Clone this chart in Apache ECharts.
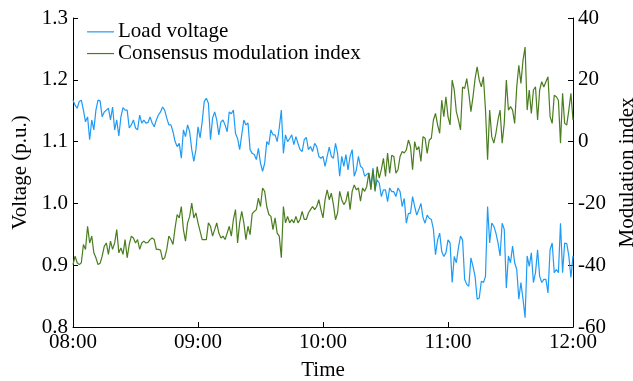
<!DOCTYPE html>
<html>
<head>
<meta charset="utf-8">
<script src="https://cdn.jsdelivr.net/npm/echarts@6/dist/echarts.min.js"></script>
<style>
  html, body { margin: 0; padding: 0; background: #fff; }
  #chart { width: 633px; height: 381px; }
</style>
</head>
<body>
<div id="chart"></div>
<script>
// Sampling: one reading per minute from 08:00 to 12:00
const STEP_MIN = 1;
const hourTicks = ['08:00', '09:00', '10:00', '11:00', '12:00'];

// Load voltage (p.u.)
const loadVoltage = [
  1.167,1.159,1.154,1.165,1.167,1.151,1.132,1.140,1.103,1.135,1.119,1.151,1.167,1.166,1.140,1.148,1.151,1.154,1.135,1.156,1.119,1.135,1.109,1.140,1.155,1.151,1.151,1.122,1.127,1.135,1.122,1.119,1.143,1.130,1.135,1.130,1.131,
  1.140,1.130,1.124,1.135,1.143,1.148,1.156,1.151,1.138,1.127,1.127,1.116,1.100,1.092,1.097,1.073,1.119,1.108,1.127,1.116,1.087,1.068,1.087,1.124,1.106,1.132,1.165,1.170,1.162,1.103,1.138,1.148,1.135,1.111,1.132,1.135,1.127,1.116,1.148,1.145,1.151,
  1.113,1.105,1.087,1.111,1.135,1.127,1.130,1.087,1.081,1.079,1.071,1.089,1.065,1.052,1.065,1.100,1.095,1.119,1.111,1.111,1.100,1.122,1.151,1.081,1.111,1.100,1.105,1.111,1.095,1.108,1.097,1.087,1.084,1.103,1.107,1.087,1.092,1.084,1.097,1.092,1.076,
  1.073,1.076,1.060,1.076,1.091,1.076,1.073,1.097,1.081,1.044,1.076,1.060,1.079,1.054,1.076,1.087,1.044,1.054,1.076,1.060,1.057,1.044,1.047,1.049,1.027,1.057,1.022,1.038,1.033,1.011,1.022,1.022,1.003,1.025,1.019,1.019,1.011,1.025,1.019,0.995,1.008,
  0.968,0.984,0.984,1.011,0.995,0.981,0.990,1.000,0.977,0.968,0.981,0.976,0.974,0.958,0.917,0.941,0.952,0.922,0.914,0.920,0.941,0.936,0.872,0.914,0.904,0.928,0.947,0.941,0.877,0.869,0.866,0.912,0.898,0.882,0.845,0.847,0.874,0.872,0.882,0.995,
  0.936,0.968,0.963,0.952,0.936,0.915,0.968,0.958,0.863,0.915,0.904,0.931,0.904,0.893,0.845,0.872,0.845,0.815,0.915,0.898,0.920,0.872,0.888,0.925,0.882,0.872,0.877,0.877,0.855,0.925,0.936,0.888,0.893,0.888,0.968,0.888,0.936,0.935,0.915,0.880,0.915
];

// Consensus modulation index
const modulationIndex = [
  -39.8,-37.1,-39.2,-39.8,-39.2,-33.3,-34.9,-27.4,-32.8,-30.6,-36.0,-37.6,-39.8,-39.4,-37.1,-33.9,-32.8,-36.5,-32.2,-34.9,-32.8,-28.5,-36.0,-34.4,-36.5,-31.7,-37.6,-33.3,-30.6,-31.2,-32.8,-31.7,-34.9,-32.8,-32.2,-32.8,-32.6,
  -31.7,-31.2,-31.7,-34.9,-34.9,-35.1,-38.2,-37.6,-34.9,-30.6,-31.7,-33.3,-27.9,-23.6,-24.7,-21.0,-28.5,-32.2,-26.3,-24.2,-19.9,-24.7,-23.1,-26.3,-29.0,-31.7,-31.7,-31.7,-26.3,-27.4,-30.6,-28.5,-26.3,-29.6,-31.2,-30.6,-31.7,-29.6,-27.4,-30.6,-25.2,
  -22.0,-32.8,-26.3,-22.6,-26.3,-31.7,-27.4,-30.1,-23.4,-22.6,-22.0,-18.3,-21.0,-15.0,-16.1,-21.0,-23.6,-24.2,-28.5,-24.7,-29.6,-30.6,-37.6,-21.0,-26.3,-24.2,-26.3,-25.2,-26.3,-24.2,-26.3,-25.2,-22.6,-25.2,-25.2,-23.1,-22.0,-21.0,-22.0,-21.0,-18.8,
  -22.0,-24.7,-18.8,-15.6,-18.8,-16.7,-20.4,-25.3,-23.1,-16.1,-18.8,-20.4,-19.3,-16.1,-22.0,-16.1,-14.0,-15.6,-15.0,-19.3,-15.0,-16.1,-14.5,-10.2,-15.6,-9.1,-16.1,-8.1,-11.8,-9.1,-5.4,-11.3,-3.7,-10.2,-4.4,-4.8,-10.2,-9.1,-4.8,-3.2,-3.7,
  -2.7,0.5,-1.6,-9.1,0,-2.7,-1.6,-6.4,1.6,1.1,-3.8,0.5,1.1,7.0,9.1,5.4,2.7,13.4,8.1,14.5,8.1,5.4,19.9,16.7,9.7,7.0,3.8,17.7,17.2,20.4,15.6,9.7,14.5,20.4,24.2,19.9,17.7,21.0,10.2,-5.9,
  10.2,1.6,-0.5,2.7,7.0,10.2,-0.5,5.9,19.9,10.2,11.3,10.2,5.9,17.7,24.7,18.8,26.3,30.6,10.2,16.7,9.1,16.7,17.7,7.0,16.7,19.4,17.7,19.4,21.0,8.1,5.9,15.0,14.5,13.4,-0.5,15.6,5.9,5.4,10.2,15.6,7.0
];

const FONT = 'Liberation Serif';
const FONT_SIZE = 21;
const BLUE = '#1e9bf5';
const GREEN = '#4a7d1f';

const toPairs = arr => arr.map((v, i) => [i * STEP_MIN, v]);

const axisLineStyle = { show: true, onZero: false, lineStyle: { color: '#000', width: 1 } };
const tickStyle = { show: true, inside: true, length: 5, lineStyle: { color: '#000', width: 1 } };
const textBase = { fontFamily: FONT, fontSize: FONT_SIZE, color: '#000' };

const chart = echarts.init(document.getElementById('chart'), null, { renderer: 'canvas' });

chart.setOption({
  animation: false,
  backgroundColor: '#fff',
  grid: {
    left: 73, right: 60, top: 18, bottom: 54,
    containLabel: false,
    outerBoundsMode: 'none'
  },
  legend: {
    orient: 'vertical',
    left: 87,
    top: 21,
    padding: 0,
    icon: 'rect',
    itemWidth: 27,
    itemHeight: 1.2,
    itemGap: 0,
    textStyle: Object.assign({}, textBase, { lineHeight: 21.7, padding: [0, 0, 0, -1] }),
    data: ['Load voltage', 'Consensus modulation index']
  },
  xAxis: {
    type: 'value',
    min: 0,
    max: 240,
    interval: 60,
    name: 'Time',
    nameLocation: 'middle',
    nameGap: 33,
    nameTextStyle: textBase,
    axisLine: axisLineStyle,
    axisTick: tickStyle,
    splitLine: { show: false },
    axisLabel: Object.assign({}, textBase, {
      margin: 5,
      formatter: v => hourTicks[Math.round(v / 60)] || ''
    })
  },
  yAxis: [
    {
      type: 'value',
      min: 0.8,
      max: 1.3,
      interval: 0.1,
      name: 'Voltage (p.u.)',
      nameLocation: 'middle',
      nameRotate: 90,
      nameGap: 41,
      nameTextStyle: textBase,
      axisLine: axisLineStyle,
      axisTick: tickStyle,
      splitLine: { show: false },
      axisLabel: Object.assign({}, textBase, {
        margin: 5,
        formatter: v => v.toFixed(1)
      })
    },
    {
      type: 'value',
      min: -60,
      max: 40,
      interval: 20,
      position: 'right',
      name: 'Modulation index',
      nameLocation: 'middle',
      nameRotate: 90,
      nameGap: 42,
      nameTextStyle: textBase,
      axisLine: axisLineStyle,
      axisTick: tickStyle,
      splitLine: { show: false },
      axisLabel: Object.assign({}, textBase, { margin: 5 })
    }
  ],
  series: [
    {
      name: 'Load voltage',
      type: 'line',
      yAxisIndex: 0,
      symbol: 'none',
      data: toPairs(loadVoltage),
      lineStyle: { color: BLUE, width: 1.2 },
      itemStyle: { color: BLUE }
    },
    {
      name: 'Consensus modulation index',
      type: 'line',
      yAxisIndex: 1,
      symbol: 'none',
      data: toPairs(modulationIndex),
      lineStyle: { color: GREEN, width: 1.2 },
      itemStyle: { color: GREEN }
    }
  ]
});
</script>
</body>
</html>
